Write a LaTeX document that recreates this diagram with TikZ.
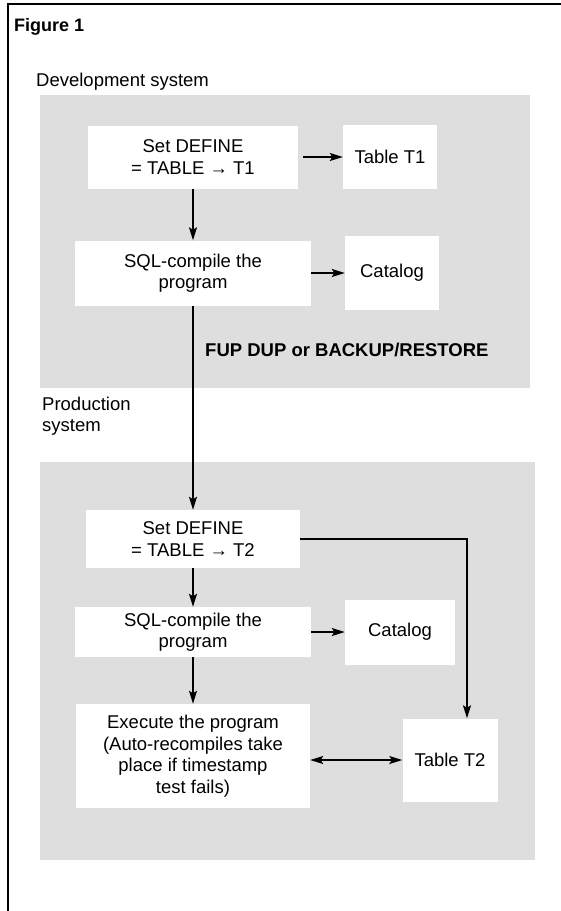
\documentclass[tikz,border=0pt]{standalone}
\usepackage{fontspec}
\setmainfont{Liberation Sans}
\usetikzlibrary{arrows.meta,calc}
\definecolor{bggray}{gray}{0.87}
\begin{document}
\begin{tikzpicture}[x=1pt,y=-1pt,
  every node/.style={font=\fontsize{18.5}{21.5}\selectfont, inner sep=0pt},
  wbox/.style={fill=white, align=center},
  conn/.style={line width=1.4pt},
  arr/.style={conn, -{Stealth[length=13pt,width=8pt,inset=2.5pt]}},
  darr/.style={conn, {Stealth[length=13pt,width=8pt,inset=2.5pt]}-{Stealth[length=13pt,width=8pt,inset=2.5pt]}},
  lbl/.style={anchor=west, align=left}
]
\useasboundingbox (0,0) rectangle (561,911);
% shaded areas
\fill[bggray] (40,95) rectangle (530,388);
\fill[bggray] (40,462) rectangle (535,860);
% frame
\draw[line width=1.5pt] (8,911) -- (8,4) -- (561,4);

% titles
\node[lbl, font=\fontsize{18}{21.5}\selectfont\bfseries] (fig) at (14,27) {Figure 1};
\node[lbl] (dev) at (36,82) {Development system};
\node[lbl] (prod) at (42,416) {Production\\system};
\node[lbl, font=\fontsize{18.5}{21.5}\selectfont\bfseries] (fup) at (205,350) {FUP DUP or BACKUP/RESTORE};

% development system
\node[wbox, minimum width=210pt, minimum height=63pt] (A) at (193,157) {Set DEFINE\\= TABLE → T1};
\node[wbox, minimum width=94pt, minimum height=64pt] (T1) at (390,157) {Table T1};
\node[wbox, minimum width=236pt, minimum height=65pt] (B) at (193,273) {SQL-compile the\\program};
\node[wbox, minimum width=94pt, minimum height=74pt] (C1) at (392,273) {Catalog};

% production system
\node[wbox, minimum width=214pt, minimum height=58pt] (C) at (193,539) {Set DEFINE\\= TABLE → T2};
\node[wbox, minimum width=236pt, minimum height=50pt] (D) at (193,632) {SQL-compile the\\program};
\node[wbox, minimum width=110pt, minimum height=65pt] (C2) at (400,632) {Catalog};
\node[wbox, minimum width=234pt, minimum height=104pt] (E) at (193,756) {Execute the program\\(Auto-recompiles take\\place if timestamp\\test fails)};
\node[wbox, minimum width=95pt, minimum height=83pt] (T2) at (450,760) {Table T2};
\coordinate (bend) at (467,539);

% connectors
\draw[arr] ([xshift=5pt]A.east) -- (T1.west);
\draw[arr] (A.south) -- (B.north);
\draw[arr] (B.east) -- (C1.west);
\draw[arr] (B.south) -- (C.north);
\draw[arr] (C.south) -- (D.north);
\draw[arr] (D.east) -- (C2.west);
\draw[arr] (D.south) -- (E.north);
\draw[darr] (E.east |- T2.west) -- (T2.west);
\draw[arr] (C.east) -- (bend) -- (bend |- T2.north);
\end{tikzpicture}
\end{document}
